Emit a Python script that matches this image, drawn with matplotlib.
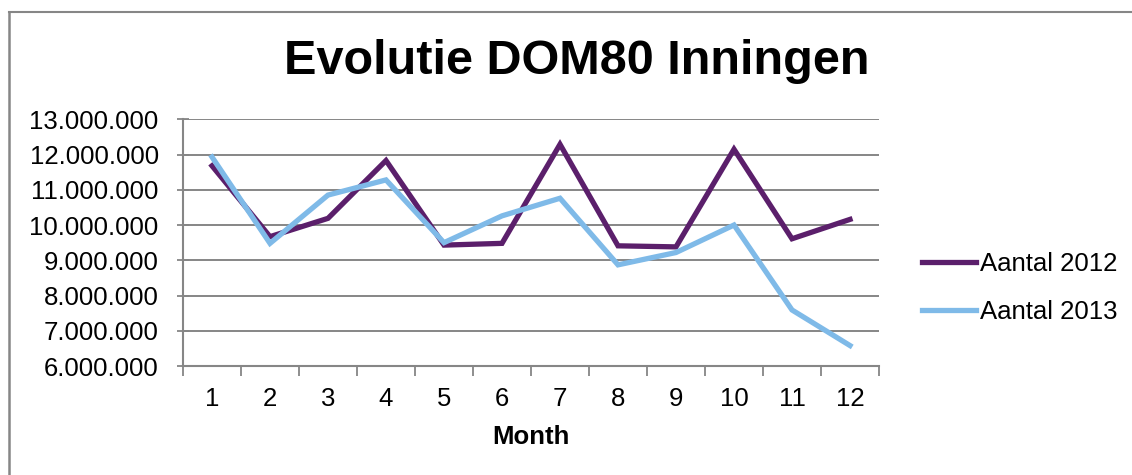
import matplotlib
matplotlib.use("Agg")
import matplotlib.pyplot as plt
from matplotlib.lines import Line2D
from matplotlib.ticker import FuncFormatter, MultipleLocator

months = [1, 2, 3, 4, 5, 6, 7, 8, 9, 10, 11, 12]
aantal_2012 = [11.68e6, 9.67e6, 10.19e6, 11.83e6, 9.43e6, 9.48e6,
               12.29e6, 9.41e6, 9.38e6, 12.15e6, 9.61e6, 10.16e6]
aantal_2013 = [11.93e6, 9.48e6, 10.85e6, 11.28e6, 9.50e6, 10.26e6,
               10.76e6, 8.87e6, 9.22e6, 10.00e6, 7.59e6, 6.58e6]
labels = ["Aantal 2012", "Aantal 2013"]
title = "Evolutie DOM80 Inningen"

plt.rcParams['font.family'] = ['Liberation Sans', 'DejaVu Sans']

W, H = 1132, 475
fig = plt.figure(figsize=(W / 100, H / 100), dpi=100)
fig.patch.set_facecolor('white')

# outer chart border (top and left visible)
fig.add_artist(Line2D([8.5 / W, 1.0], [1 - 11.5 / H, 1 - 11.5 / H],
                      transform=fig.transFigure, color='#868686', lw=1.5))
fig.add_artist(Line2D([8.5 / W, 8.5 / W], [0.0, 1 - 11.5 / H],
                      transform=fig.transFigure, color='#868686', lw=1.8))

left, right, top, bottom = 183, 879, 119.3, 366
ax = fig.add_axes([left / W, 1 - bottom / H, (right - left) / W, (bottom - top) / H])

purple = '#5B1F6B'
blue = '#7FBAE8'
ax.plot(months, aantal_2012, color=purple, lw=3.8, solid_joinstyle='miter', label=labels[0], zorder=3)
ax.plot(months, aantal_2013, color=blue, lw=3.8, solid_joinstyle='miter', label=labels[1], zorder=4)

ax.set_xlim(0.5, 12.5)
ax.set_ylim(6e6, 13e6)
ax.yaxis.set_major_locator(MultipleLocator(1e6))
ax.yaxis.set_major_formatter(FuncFormatter(lambda v, p: f"{int(round(v)):,}".replace(",", ".")))
ax.set_xticks(months)
ax.set_xticks([m + 0.5 for m in [0] + months], minor=True)
ax.tick_params(axis='x', which='major', length=0, pad=15, labelsize=18.5)
ax.tick_params(axis='x', which='minor', length=7, width=1.3, color='#868686', direction='out')
ax.tick_params(axis='y', which='major', length=9, width=1.3, color='#868686', direction='inout',
               labelsize=18.5, pad=13)

ax.grid(axis='y', color='#868686', lw=1.4)
ax.set_axisbelow(True)
for s in ['top', 'right']:
    ax.spines[s].set_visible(False)
for s in ['left', 'bottom']:
    ax.spines[s].set_color('#868686')
    ax.spines[s].set_linewidth(1.5)

ax.set_xlabel("Month", fontsize=18.5, fontweight='bold', labelpad=10)

fig.text(577 / W, 1 - 62 / H, title, ha='center', va='center', fontsize=35, fontweight='bold')

leg = ax.legend(loc='center left', frameon=False, fontsize=18.5,
                handlelength=2.1, handletextpad=0.15, labelspacing=0.95, borderaxespad=0.0)
leg.set_bbox_to_anchor((912 / W, 1 - 288 / H), transform=fig.transFigure)

fig.savefig("out.png", dpi=100, facecolor='white')
